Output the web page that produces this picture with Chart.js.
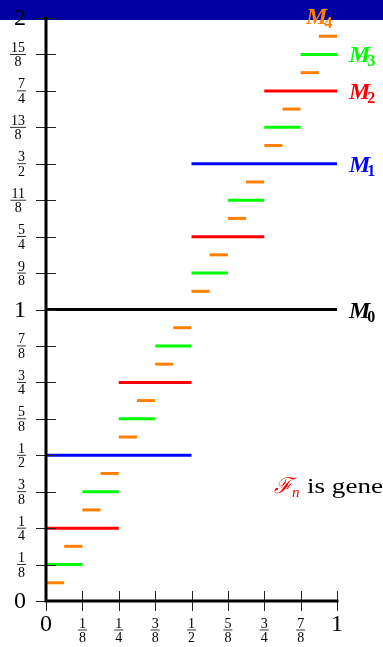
<!DOCTYPE html>
<html>
<head>
<meta charset="utf-8">
<script src="https://cdn.jsdelivr.net/npm/chart.js@4"></script>
<style>
  html, body { margin: 0; padding: 0; background: #fff; }
  canvas { display: block; }
</style>
</head>
<body>
<canvas id="dyadicChart" width="383" height="647"></canvas>
<script>
// Dyadic step levels M0..M4 (x breakpoints and y level per step)
const m0Breaks = [0, 1];
const m0Levels = [1];
const m1Breaks = [0, 0.5, 1];
const m1Levels = [0.5, 1.5];
const m2Breaks = [0, 0.25, 0.5, 0.75, 1];
const m2Levels = [0.25, 0.75, 1.25, 1.75];
const m3Breaks = [0, 0.125, 0.25, 0.375, 0.5, 0.625, 0.75, 0.875, 1];
const m3Levels = [0.125, 0.375, 0.625, 0.875, 1.125, 1.375, 1.625, 1.875];
const m4Breaks = [0, 0.0625, 0.125, 0.1875, 0.25, 0.3125, 0.375, 0.4375, 0.5,
                  0.5625, 0.625, 0.6875, 0.75, 0.8125, 0.875, 0.9375, 1];
const m4Levels = [0.0625, 0.1875, 0.3125, 0.4375, 0.5625, 0.6875, 0.8125, 0.9375,
                  1.0625, 1.1875, 1.3125, 1.4375, 1.5625, 1.6875, 1.8125, 1.9375];

// Tick values and labels
const xTicks = [0, 0.125, 0.25, 0.375, 0.5, 0.625, 0.75, 0.875, 1];
const xTickLabels = ["0", "1/8", "1/4", "3/8", "1/2", "5/8", "3/4", "7/8", "1"];
const yTicks = [0, 0.125, 0.25, 0.375, 0.5, 0.625, 0.75, 0.875, 1,
                1.125, 1.25, 1.375, 1.5, 1.625, 1.75, 1.875, 2];
const yTickLabels = ["0", "1/8", "1/4", "3/8", "1/2", "5/8", "3/4", "7/8", "1",
                     "9/8", "5/4", "11/8", "3/2", "13/8", "7/4", "15/8", "2"];

const levels = [
   { name: "M", sub: "0", breaks: m0Breaks, ys: m0Levels, color: "#000000" },
   { name: "M", sub: "1", breaks: m1Breaks, ys: m1Levels, color: "#0000ff" },
   { name: "M", sub: "2", breaks: m2Breaks, ys: m2Levels, color: "#ff0000" },
   { name: "M", sub: "3", breaks: m3Breaks, ys: m3Levels, color: "#00ff00" },
   { name: "M", sub: "4", breaks: m4Breaks, ys: m4Levels, color: "#ff8000" },
];

const SERIF = "'Liberation Serif', 'DejaVu Serif', serif";

// one dataset per horizontal step
const datasets = [];
levels.forEach((lvl) => {
   for (let i = 0; i < lvl.ys.length; i++) {
      datasets.push({
         data: [
            { x: lvl.breaks[i], y: lvl.ys[i] },
            { x: lvl.breaks[i + 1], y: lvl.ys[i] },
         ],
         borderColor: lvl.color,
         borderWidth: 3,
         pointRadius: 0,
         showLine: true,
         fill: false,
      });
   }
});

function drawFrac(ctx, label, x, y, align) {
   const parts = label.split("/");
   if (parts.length === 1) {
      ctx.font = "24px " + SERIF;
      ctx.textAlign = align === "right" ? "right" : "center";
      ctx.textBaseline = "middle";
      ctx.fillText(label, x, y + 1);
      return;
   }
   ctx.font = "14px " + SERIF;
   const w = Math.max(ctx.measureText(parts[0]).width, ctx.measureText(parts[1]).width) + 2;
   const cx = align === "right" ? x - w / 2 : x;
   ctx.textAlign = "center";
   ctx.textBaseline = "alphabetic";
   ctx.fillText(parts[0], cx, y - 2.5);
   ctx.fillText(parts[1], cx, y + 12);
   ctx.fillRect(cx - w / 2, y - 0.4, w, 0.8);
}

function drawMLabel(ctx, lvl, x, baseline) {
   ctx.fillStyle = lvl.color;
   ctx.textAlign = "left";
   ctx.textBaseline = "alphabetic";
   ctx.font = "italic bold 24px " + SERIF;
   ctx.fillText(lvl.name, x, baseline);
   const w = ctx.measureText(lvl.name).width;
   ctx.font = "bold 16px " + SERIF;
   ctx.fillText(lvl.sub, x + w - 3, baseline + 4);
}

const dyadicPlugin = {
   id: "dyadicDecor",
   beforeDraw(chart) {
      const ctx = chart.ctx;
      ctx.save();
      ctx.fillStyle = "#ffffff";
      ctx.fillRect(0, 0, chart.width, chart.height);
      ctx.fillStyle = "#0000a0";
      ctx.fillRect(0, 0, chart.width, 20);
      ctx.restore();
   },
   afterDatasetsDraw(chart) {
      const ctx = chart.ctx;
      const xs = chart.scales.x;
      const ys = chart.scales.y;
      const x0 = xs.getPixelForValue(0);
      const x1 = xs.getPixelForValue(1);
      const y0 = ys.getPixelForValue(0);
      const y2 = ys.getPixelForValue(2);
      ctx.save();

      // tick marks crossing the axes
      ctx.strokeStyle = "#222222";
      ctx.lineWidth = 1;
      ctx.beginPath();
      yTicks.forEach((v) => {
         const py = Math.round(ys.getPixelForValue(v)) + 0.5;
         ctx.moveTo(x0 - 10, py);
         ctx.lineTo(x0 + 10, py);
      });
      xTicks.forEach((v) => {
         const px = Math.round(xs.getPixelForValue(v)) + 0.5;
         ctx.moveTo(px, y0 - 10);
         ctx.lineTo(px, y0 + 10);
      });
      ctx.stroke();

      // axes
      ctx.strokeStyle = "#000000";
      ctx.lineWidth = 3;
      ctx.lineCap = "square";
      ctx.beginPath();
      ctx.moveTo(x0, y2);
      ctx.lineTo(x0, y0);
      ctx.lineTo(x1, y0);
      ctx.stroke();

      // tick labels
      ctx.fillStyle = "#000000";
      yTicks.forEach((v, i) => {
         drawFrac(ctx, yTickLabels[i], 26, ys.getPixelForValue(v), "right");
      });
      xTicks.forEach((v, i) => {
         const lab = xTickLabels[i];
         const yy = lab.indexOf("/") < 0 ? 624 : 630;
         drawFrac(ctx, lab, xs.getPixelForValue(v), yy, "center");
      });

      // level names
      levels.forEach((lvl) => {
         const lastY = ys.getPixelForValue(lvl.ys[lvl.ys.length - 1]);
         if (lvl.sub === "4") {
            drawMLabel(ctx, lvl, x1 - 31, lastY - 12);
         } else {
            drawMLabel(ctx, lvl, x1 + 12, lastY + 8);
         }
      });

      // caption (cut by the right edge)
      ctx.textAlign = "left";
      ctx.textBaseline = "alphabetic";
      ctx.fillStyle = "#ff0000";
      ctx.font = "italic 22px 'DejaVu Serif', " + SERIF;
      ctx.fillText("\u2131", 274, 493);
      ctx.font = "italic 15px " + SERIF;
      ctx.fillText("n", 292, 497);
      ctx.fillStyle = "#000000";
      ctx.font = "22px " + SERIF;
      const wIsGene = ctx.measureText("is gene").width;
      const sx = (383 - 307) / wIsGene;
      ctx.save();
      ctx.translate(307, 493);
      ctx.scale(sx, 1);
      ctx.fillText("is generated", 0, 0);
      ctx.restore();

      ctx.restore();
   },
};

const ctx = document.getElementById("dyadicChart").getContext("2d");
new Chart(ctx, {
   type: "scatter",
   data: { datasets: datasets },
   options: {
      responsive: false,
      animation: false,
      layout: { padding: { left: 46, right: 46, top: 18, bottom: 46 } },
      plugins: { legend: { display: false }, tooltip: { enabled: false } },
      scales: {
         x: { type: "linear", min: 0, max: 1, display: false },
         y: { type: "linear", min: 0, max: 2, display: false },
      },
   },
   plugins: [dyadicPlugin],
});
</script>
</body>
</html>
